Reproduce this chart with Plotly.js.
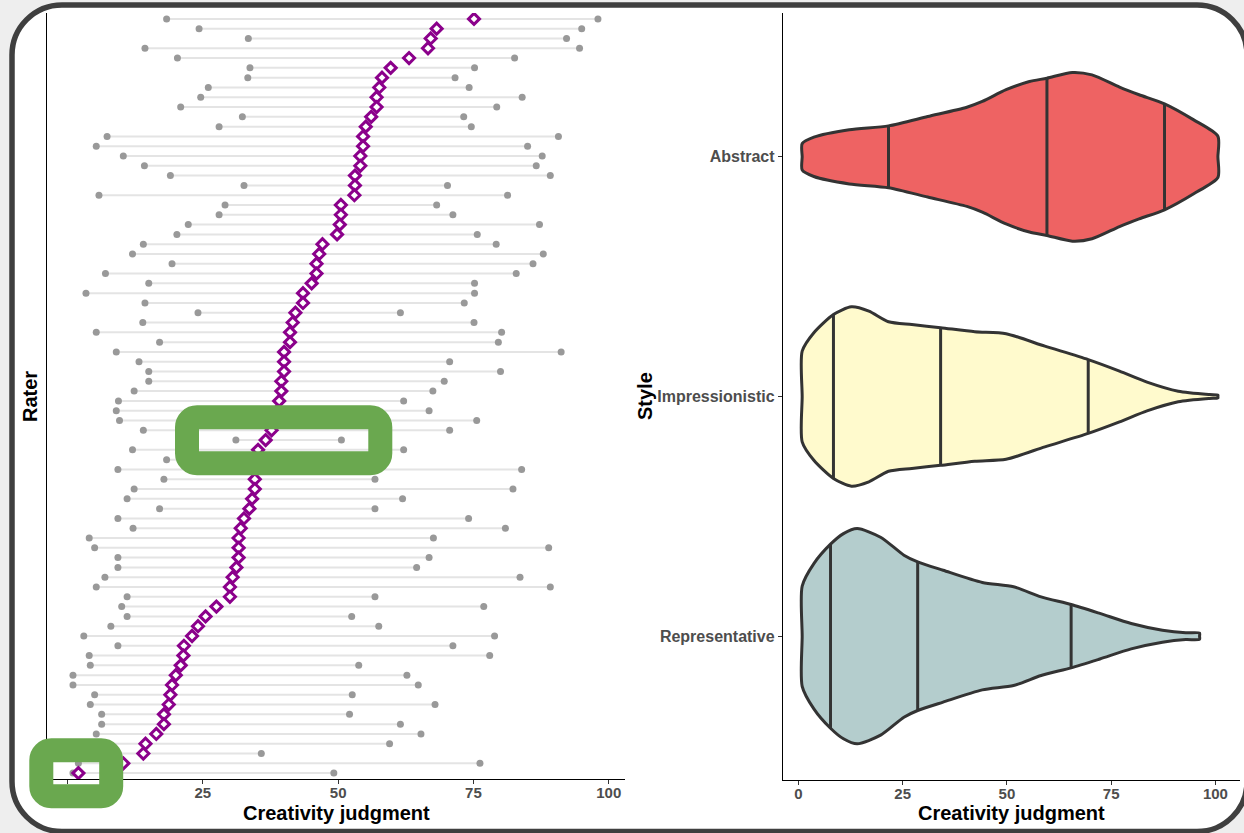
<!DOCTYPE html>
<html>
<head>
<meta charset="utf-8">
<script src="https://cdn.plot.ly/plotly-3.0.1.min.js"></script>
<style>
  html, body { margin: 0; padding: 0; background: #eeeeee; }
  #chart { width: 1244px; height: 833px; }
</style>
</head>
<body>
<div id="chart"></div>
<script>
// ---- Left panel: each rater's lowest, mean and highest creativity judgment (top row first)
const raterMin = [
  18.3, 24.3, 33.4, 14.3, 20.3, 33.7, 33.3, 26.0, 24.6, 20.9,
  32.3, 28.0, 7.3, 5.3, 10.3, 14.2, 19.0, 32.6, 5.8, 29.1,
  28.0, 22.3, 20.2, 14.0, 12.0, 19.3, 7.0, 15.0, 3.4, 14.3,
  24.1, 13.9, 5.3, 17.0, 9.0, 13.2, 15.0, 15.0, 12.3, 9.4,
  9.0, 9.6, 14.0, 31.1, 12.0, 18.3, 9.3, 17.8, 12.3, 11.0,
  17.0, 9.3, 12.1, 4.0, 5.0, 9.3, 9.3, 6.9, 5.3, 11.0,
  10.0, 11.0, 8.0, 3.0, 9.3, 4.0, 4.2, 1.0, 1.0, 5.0,
  4.2, 6.3, 6.3, 5.3, 4.0, 3.0, 2.0, 1.0
];
const raterMean = [
  75.1, 68.2, 67.1, 66.6, 63.1, 59.7, 58.1, 57.6, 57.1, 57.1,
  56.1, 55.1, 54.6, 54.6, 54.1, 54.1, 53.1, 53.1, 53.0, 50.5,
  50.5, 50.3, 49.8, 47.1, 46.5, 46.0, 46.0, 45.1, 43.5, 43.5,
  42.1, 41.6, 41.1, 41.1, 40.0, 40.0, 40.0, 39.5, 39.5, 39.1,
  38.8, 38.3, 37.7, 36.6, 35.2, 35.0, 34.8, 34.6, 34.6, 34.1,
  33.6, 32.6, 32.0, 31.6, 31.6, 31.6, 31.2, 30.5, 30.0, 30.0,
  27.5, 25.5, 24.1, 23.0, 21.5, 21.4, 20.9, 20.0, 19.3, 19.0,
  18.7, 17.8, 17.8, 16.4, 14.4, 14.0, 10.3, 2.0
];
const raterMax = [
  98.0, 95.0, 92.2, 94.6, 82.6, 75.2, 71.6, 74.2, 84.0, 79.3,
  73.2, 74.6, 90.7, 85.0, 87.7, 86.6, 89.2, 70.2, 81.3, 68.2,
  71.2, 87.2, 75.7, 79.2, 87.9, 86.0, 82.9, 75.2, 75.2, 73.3,
  61.5, 75.1, 80.2, 79.6, 91.2, 70.6, 80.0, 69.6, 67.5, 62.1,
  66.8, 75.6, 70.6, 50.6, 62.1, 52.0, 83.9, 56.8, 82.3, 61.9,
  56.8, 74.1, 80.9, 67.6, 88.9, 66.8, 64.5, 83.6, 89.2, 56.8,
  76.9, 52.5, 57.5, 78.9, 71.2, 78.0, 53.8, 62.7, 64.8, 52.6,
  67.9, 52.1, 61.5, 65.3, 59.5, 35.8, 76.2, 49.2
];

// ---- Right panel: judgment distribution per style (grid of judgments, density half-width)
const styles = ['Abstract', 'Impressionistic', 'Representative'];
const styleColors = ['#EE6363', '#FFFACD', '#B4CDCD'];

const abstractGrid = [0.9, 3.7, 12.2, 21.6, 31.0, 40.4, 44.1, 49.8, 55.4, 59.6, 65.7, 70.4, 77.0, 81.7, 87.8, 94.8, 100.6];
const abstractHalf = [0.055, 0.082, 0.113, 0.129, 0.168, 0.207, 0.231, 0.280, 0.314, 0.328, 0.352, 0.342, 0.291, 0.259, 0.221, 0.154, 0.086];
const abstractQuartiles = [21.6, 59.6, 87.8];

const impressGrid = [0.9, 3.7, 8.4, 12.7, 16.9, 21.6, 27.2, 34.1, 42.3, 49.8, 59.1, 69.5, 77.0, 83.6, 91.1, 98.6, 100.6];
const impressHalf = [0.189, 0.266, 0.342, 0.374, 0.356, 0.312, 0.300, 0.287, 0.270, 0.262, 0.210, 0.154, 0.106, 0.060, 0.022, 0.008, 0.006];
const impressQuartiles = [8.4, 34.1, 69.5];

const reprGrid = [0.9, 3.7, 7.7, 10.8, 14.1, 19.7, 25.3, 28.6, 34.7, 44.1, 51.6, 58.2, 65.4, 72.3, 79.8, 87.3, 92.9, 96.2];
const reprHalf = [0.209, 0.303, 0.384, 0.428, 0.449, 0.413, 0.338, 0.310, 0.275, 0.224, 0.206, 0.164, 0.132, 0.095, 0.053, 0.025, 0.014, 0.013];
const reprQuartiles = [7.7, 28.6, 65.4];

// ---- figure geometry helpers (pixel -> paper fraction)
const W = 1244, H = 833;
const fx = v => v / W;
const fy = v => 1 - v / H;

function roundedRect(x0, y0, x1, y1, r) {
  const k = 0.5523 * r;
  const P = (x, y) => fx(x) + ',' + fy(y);
  return 'M' + P(x0 + r, y0) +
    ' L' + P(x1 - r, y0) +
    ' C' + P(x1 - r + k, y0) + ' ' + P(x1, y0 + r - k) + ' ' + P(x1, y0 + r) +
    ' L' + P(x1, y1 - r) +
    ' C' + P(x1, y1 - r + k) + ' ' + P(x1 - r + k, y1) + ' ' + P(x1 - r, y1) +
    ' L' + P(x0 + r, y1) +
    ' C' + P(x0 + r - k, y1) + ' ' + P(x0, y1 - r + k) + ' ' + P(x0, y1 - r) +
    ' L' + P(x0, y0 + r) +
    ' C' + P(x0, y0 + r - k) + ' ' + P(x0 + r - k, y0) + ' ' + P(x0 + r, y0) +
    ' Z';
}

// ---- left panel traces
const nRows = raterMean.length;
const rowPos = raterMean.map((_, i) => nRows - i);

const segX = [], segY = [];
for (let i = 0; i < nRows; i++) {
  segX.push(raterMin[i], raterMax[i], null);
  segY.push(rowPos[i], rowPos[i], null);
}

const traces = [];
traces.push({
  type: 'scatter', mode: 'lines', x: segX, y: segY,
  line: { color: '#E4E4E4', width: 2 }, hoverinfo: 'skip', xaxis: 'x', yaxis: 'y'
});
traces.push({
  type: 'scatter', mode: 'markers',
  x: raterMin.concat(raterMax), y: rowPos.concat(rowPos),
  marker: { color: '#999999', size: 7, line: { width: 0 } },
  hoverinfo: 'x', xaxis: 'x', yaxis: 'y'
});
traces.push({
  type: 'scatter', mode: 'markers', x: raterMean, y: rowPos,
  marker: { symbol: 'diamond', color: '#FFFFFF', size: 8.5, line: { color: '#8B008B', width: 3 } },
  hoverinfo: 'x', xaxis: 'x', yaxis: 'y'
});

// ---- right panel traces
function halfAt(grid, half, q) {
  for (let i = 0; i < grid.length - 1; i++) {
    if (q >= grid[i] && q <= grid[i + 1]) {
      const t = (q - grid[i]) / (grid[i + 1] - grid[i]);
      return half[i] + t * (half[i + 1] - half[i]);
    }
  }
  return half[half.length - 1];
}

function addViolin(grid, half, quartiles, center, fill) {
  const n = grid.length;
  const xs = [], ys = [];
  // upper edge left to right, flat right cap, lower edge back, flat left cap
  for (let i = 0; i < n; i++) { xs.push(grid[i]); ys.push(center + half[i]); }
  xs.push(grid[n - 1]); ys.push(center);
  for (let i = n - 1; i >= 0; i--) { xs.push(grid[i]); ys.push(center - half[i]); }
  xs.push(grid[0]); ys.push(center);
  xs.push(grid[0]); ys.push(center + half[0]);
  traces.push({
    type: 'scatter', mode: 'lines', x: xs, y: ys, fill: 'toself', fillcolor: fill,
    line: { color: '#333333', width: 3, shape: 'spline', smoothing: 0.7 },
    hoverinfo: 'skip', xaxis: 'x2', yaxis: 'y2'
  });
  const qx = [], qy = [];
  quartiles.forEach(q => {
    const h = halfAt(grid, half, q);
    qx.push(q, q, null);
    qy.push(center - h, center + h, null);
  });
  traces.push({
    type: 'scatter', mode: 'lines', x: qx, y: qy,
    line: { color: '#333333', width: 3 }, hoverinfo: 'skip', xaxis: 'x2', yaxis: 'y2'
  });
}

addViolin(abstractGrid, abstractHalf, abstractQuartiles, 3, styleColors[0]);
addViolin(impressGrid, impressHalf, impressQuartiles, 2, styleColors[1]);
addViolin(reprGrid, reprHalf, reprQuartiles, 1, styleColors[2]);

// ---- layout
const tickFont = { family: 'Liberation Sans, Arial, sans-serif', size: 15, color: '#4D4D4D', weight: 'bold' };
const yTickFont = { family: 'Liberation Sans, Arial, sans-serif', size: 16, color: '#4D4D4D', weight: 'bold' };
const titleFont = { family: 'Liberation Sans, Arial, sans-serif', size: 20, color: '#000000', weight: 'bold' };

const baseX = {
  tickvals: [0, 25, 50, 75, 100], ticks: 'outside', ticklen: 4, tickwidth: 1, tickcolor: '#333333',
  ticklabelstandoff: -4,
  showline: true, linecolor: '#000000', linewidth: 1.2, showgrid: false, zeroline: false,
  tickfont: tickFont, fixedrange: true
};

const layout = {
  width: W, height: H,
  margin: { l: 0, r: 0, t: 0, b: 0 },
  paper_bgcolor: '#eeeeee',
  plot_bgcolor: 'rgba(0,0,0,0)',
  showlegend: false,
  font: { family: 'Liberation Sans, Arial, sans-serif' },
  xaxis: Object.assign({}, baseX, { domain: [fx(47), fx(625)], range: [-3.8, 103.0], anchor: 'y' }),
  yaxis: {
    domain: [fy(779), fy(13)], range: [0.4, nRows + 0.6], anchor: 'x',
    showticklabels: false, ticks: '', showline: true, linecolor: '#000000', linewidth: 1.2,
    showgrid: false, zeroline: false, fixedrange: true
  },
  xaxis2: Object.assign({}, baseX, { domain: [fx(783), fx(1240)], range: [-3.7, 105.9], anchor: 'y2' }),
  yaxis2: {
    domain: [fy(780), fy(13)], range: [0.4, 3.6], anchor: 'x2',
    tickvals: [3, 2, 1], ticktext: styles, ticks: 'outside', ticklen: 4, tickwidth: 1, tickcolor: '#333333',
    showline: true, linecolor: '#000000', linewidth: 1.2, showgrid: false, zeroline: false,
    tickfont: yTickFont, fixedrange: true
  },
  shapes: [
    { type: 'path', xref: 'paper', yref: 'paper', layer: 'below',
      path: roundedRect(12, 5, 1247, 831.5, 50),
      fillcolor: '#FFFFFF', line: { color: '#3F3F3F', width: 5.5 } },
    { type: 'path', xref: 'paper', yref: 'paper', layer: 'above',
      path: roundedRect(187, 417.2, 380.3, 463.3, 10),
      fillcolor: 'rgba(0,0,0,0)', line: { color: '#6AA84F', width: 24 } },
    { type: 'path', xref: 'paper', yref: 'paper', layer: 'above',
      path: roundedRect(41.3, 750.3, 111.2, 796.2, 10),
      fillcolor: 'rgba(0,0,0,0)', line: { color: '#6AA84F', width: 24 } }
  ],
  annotations: [
    { text: 'Creativity judgment', xref: 'paper', yref: 'paper', x: fx(336), y: fy(813),
      xanchor: 'center', yanchor: 'middle', showarrow: false, font: titleFont },
    { text: 'Creativity judgment', xref: 'paper', yref: 'paper', x: fx(1011.5), y: fy(813),
      xanchor: 'center', yanchor: 'middle', showarrow: false, font: titleFont },
    { text: 'Rater', xref: 'paper', yref: 'paper', x: fx(30), y: fy(396), textangle: -90,
      xanchor: 'center', yanchor: 'middle', showarrow: false, font: titleFont },
    { text: 'Style', xref: 'paper', yref: 'paper', x: fx(645), y: fy(396), textangle: -90,
      xanchor: 'center', yanchor: 'middle', showarrow: false, font: titleFont }
  ]
};

Plotly.newPlot('chart', traces, layout, { displayModeBar: false, staticPlot: true });
</script>
</body>
</html>
